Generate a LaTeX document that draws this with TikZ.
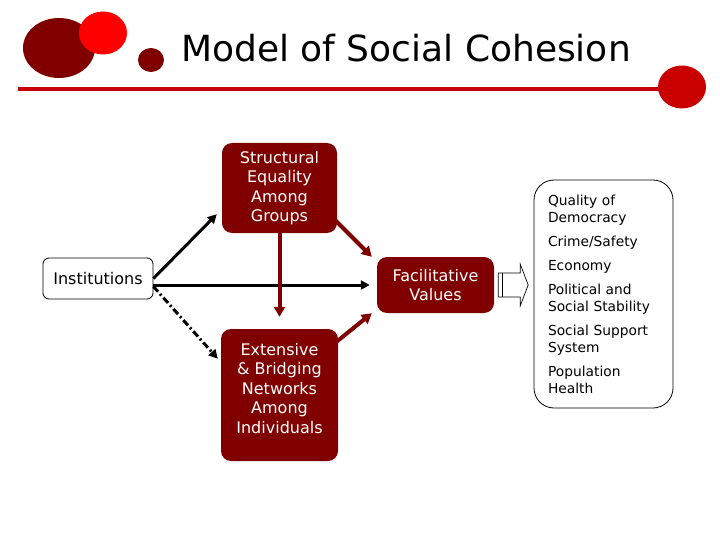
\documentclass[tikz,border=0pt]{standalone}
\usepackage{fontspec}
\setmainfont{DejaVu Sans}
\usepackage{tikz}
\usetikzlibrary{arrows.meta,calc}
\definecolor{darkred}{RGB}{128,0,0}
\definecolor{brightred}{RGB}{255,0,0}
\definecolor{linered}{RGB}{200,0,0}
\tikzset{arr/.style={-{Triangle[length=9pt,width=9pt]},line width=3pt},
  darr/.style={-{Triangle[length=10pt,width=11pt]},line width=4pt,draw=darkred}}

\begin{document}
\begin{tikzpicture}[x=1pt,y=-1pt,
  box/.style={fill=darkred,text=white,rounded corners=10pt,align=center,inner sep=2pt,
    font=\fontsize{16}{19.5}\selectfont},
  wbox/.style={draw=black,line width=0.8pt,fill=white,rounded corners=6pt,inner sep=2pt,
    font=\fontsize{16}{19.5}\selectfont}]
\useasboundingbox (0,0) rectangle (720,540);
\fill[white] (0,0) rectangle (720,540);
\fill[darkred] (59,48) ellipse [x radius=36pt,y radius=30pt];
\fill[brightred] (103,33) ellipse [x radius=24pt,y radius=21.5pt];
\fill[darkred] (151,60) ellipse [x radius=13pt,y radius=12pt];
\draw[linered,line width=4pt] (18,89) -- (665,89);
\fill[linered] (682,87) ellipse [x radius=24pt,y radius=21.5pt];
\node[anchor=base,font=\fontsize{36}{40}\selectfont] (title) at (406,62) {Model of Social Cohesion};
\node[box,minimum width=115pt,minimum height=90pt] (stru) at (279.5,188) {Structural\\Equality\\Among\\Groups};
\node[box,minimum width=117pt,minimum height=132pt] (ext) at (279.5,395) {Extensive\\\& Bridging\\Networks\\Among\\Individuals\\[-6pt]\mbox{}};
\node[box,minimum width=117pt,minimum height=56pt] (fac) at (435.5,285) {Facilitative\\Values};
\node[wbox,minimum width=110pt,minimum height=41pt] (inst) at (98,278.5) {Institutions};
\node[wbox,rounded corners=20pt,minimum height=228pt,text width=111pt,inner xsep=14pt,align=left,
  font=\fontsize{13.8}{17}\selectfont] (outc) at (603.5,294)
  {Quality of\\Democracy\\[7pt]Crime/Safety\\[7pt]Economy\\[7pt]Political and\\Social Stability\\[7pt]Social Support\\System\\[7pt]Population\\Health};
\draw[arr] (inst.east) -- ([xshift=-5pt,yshift=19pt]stru.south west);
\draw[arr,shorten >=7pt] (inst.east |- fac.west) -- (fac.west);
\draw[arr,dash pattern=on 7pt off 3pt on 2pt off 3pt] ([yshift=-8pt]inst.east) -- ([xshift=-3pt,yshift=-30pt]ext.north west);
\draw[darr,shorten >=12pt] (stru.south) -- (ext.north);
\draw[darr] ([xshift=-2pt,yshift=13pt]stru.south east) -- ([xshift=-5pt]fac.north west);
\draw[darr] ([xshift=-3pt,yshift=-14pt]ext.north east) -- ([xshift=-5pt]fac.south west);
\draw[line width=0.7pt,fill=white] ([xshift=4pt,yshift=12pt]fac.east) -- ++(22,0) -- ++(0,-9) -- ++(8,21) -- ++(-8,21) -- ++(0,-9) -- ++(-22,0) -- cycle;
\draw[line width=0.7pt] ([xshift=8pt,yshift=12pt]fac.east) -- ++(0,24);
\end{tikzpicture}
\end{document}
